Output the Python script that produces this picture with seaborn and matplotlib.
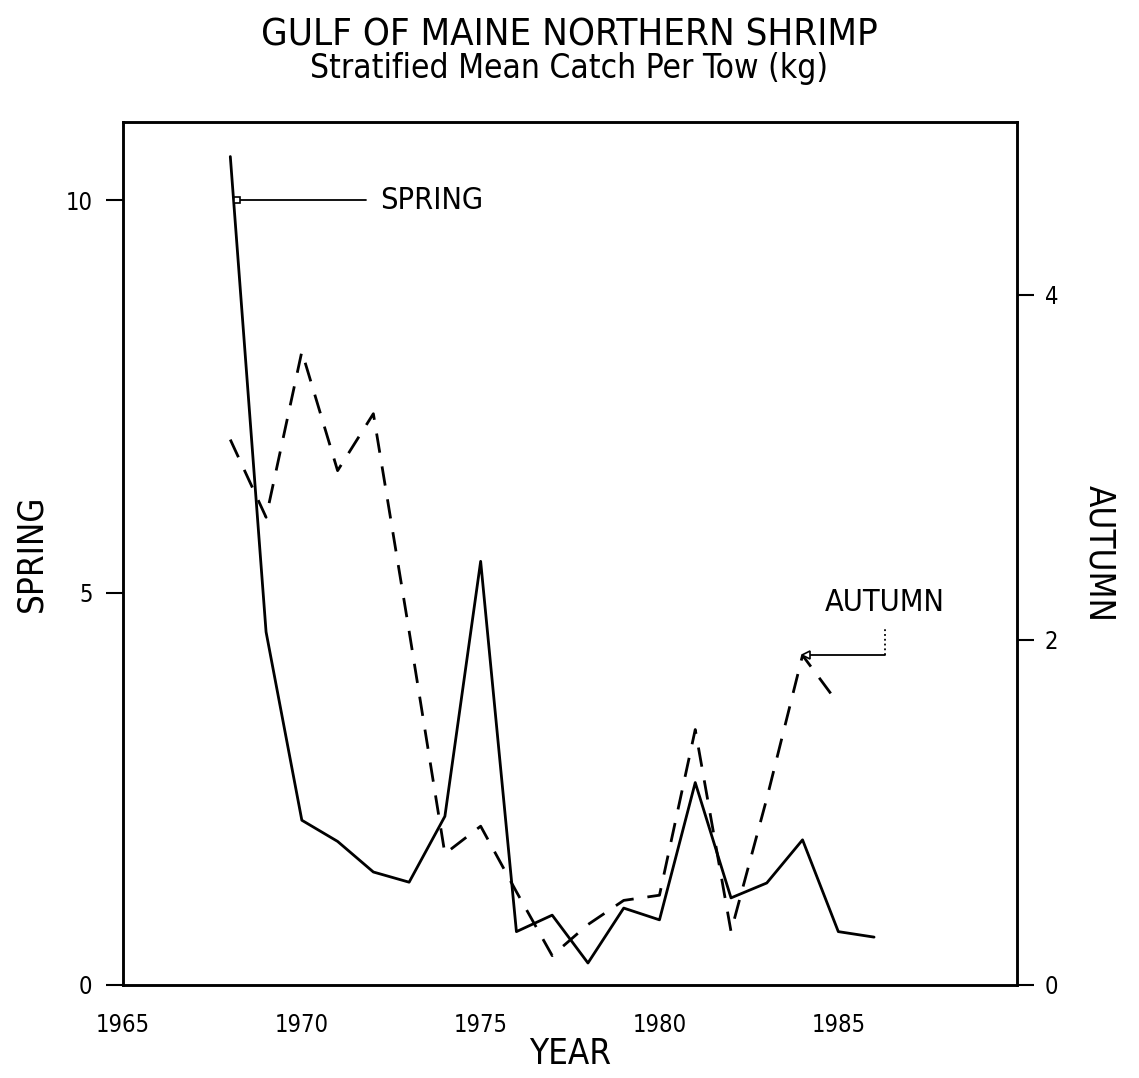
import matplotlib
matplotlib.use("Agg")
import matplotlib.pyplot as plt
import seaborn as sns
import pandas as pd

# ---- data ----
spring_years = [1968, 1969, 1970, 1971, 1972, 1973, 1974, 1975, 1976, 1977,
                1978, 1979, 1980, 1981, 1982, 1983, 1984, 1985, 1986]
spring_kg = [10.56, 4.50, 2.10, 1.83, 1.44, 1.31, 2.15, 5.40, 0.68, 0.89,
             0.28, 0.98, 0.83, 2.58, 1.11, 1.30, 1.85, 0.68, 0.61]

autumn_years = [1968, 1969, 1970, 1971, 1972, 1973, 1974, 1975, 1976, 1977,
                1978, 1979, 1980, 1981, 1982, 1983, 1984, 1985]
autumn_kg = [3.16, 2.71, 3.67, 2.98, 3.31, 2.05, 0.76, 0.92, 0.54, 0.17,
             0.35, 0.49, 0.52, 1.48, 0.31, 1.08, 1.91, 1.63]

x_ticks = [1965, 1970, 1975, 1980, 1985]
left_ticks = [0, 5, 10]
right_ticks = [0, 2, 4]

title = "GULF OF MAINE NORTHERN SHRIMP"
subtitle = "Stratified Mean Catch Per Tow (kg)"

spring_df = pd.DataFrame({"year": spring_years, "kg": spring_kg})
autumn_df = pd.DataFrame({"year": autumn_years, "kg": autumn_kg})

sns.set_theme(style="white")
plt.rcParams["font.family"] = ["DejaVu Sans"]
plt.rcParams["font.stretch"] = "condensed"
for k in ("text.color", "axes.labelcolor", "xtick.color", "ytick.color"):
    plt.rcParams[k] = "black"

fig = plt.figure(figsize=(11.39, 10.78), dpi=100)
ax = fig.add_axes([0.108, 0.0863, 0.785, 0.8005])
ax2 = ax.twinx()

sns.lineplot(data=spring_df, x="year", y="kg", ax=ax, color="black",
             linewidth=2.0, estimator=None)
sns.lineplot(data=autumn_df, x="year", y="kg", ax=ax2, color="black",
             linewidth=2.0, estimator=None)
ax2.lines[0].set_dashes((7, 5))

ax.set_xlim(1965, 1990)
ax.set_ylim(0, 11)
ax2.set_ylim(0, 5)

ax.set_xticks(x_ticks)
ax.set_xticklabels([str(t) for t in x_ticks], fontsize=17)
ax.set_yticks(left_ticks)
ax.set_yticklabels([str(t) for t in left_ticks], fontsize=17)
ax2.set_yticks(right_ticks)
ax2.set_yticklabels([str(t) for t in right_ticks], fontsize=17)

for a in (ax, ax2):
    for s in a.spines.values():
        s.set_color("black")
        s.set_linewidth(1.8)
    a.tick_params(direction="out", length=12, width=1.5, colors="black", pad=6)
ax.tick_params(axis="x", pad=8)
ax.tick_params(axis="y", pad=10)
ax2.tick_params(axis="y", pad=8)

ax.set_xlabel("YEAR", fontsize=25, labelpad=0)
ax.set_ylabel("SPRING", fontsize=25, labelpad=12)
ax2.set_ylabel("AUTUMN", fontsize=25, rotation=-90, labelpad=42)

# title
fig.text(0.5, 0.967, title, ha="center", va="center", fontsize=27.5)
fig.text(0.5, 0.936, subtitle, ha="center", va="center", fontsize=24)

# SPRING label with leader
sx, sy = spring_years[0] + 0.2, 10.0
ax.plot([sx, sx + 3.6], [sy, sy], color="black", linewidth=1.3)
ax.plot([sx], [sy], marker="s", markersize=5, markerfacecolor="white",
        markeredgecolor="black", markeredgewidth=1.2)
ax.text(sx + 4.0, sy, "SPRING", fontsize=22, ha="left", va="center")

# AUTUMN label with leader (right axis coordinates)
i84 = autumn_years.index(1984)
axx, ayy = autumn_years[i84] + 0.1, autumn_kg[i84]
ax2.plot([axx, axx + 2.2], [ayy, ayy], color="black", linewidth=1.3)
ax2.plot([axx + 2.2, axx + 2.2], [ayy, ayy + 0.16], color="black",
         linewidth=1.3, linestyle=":")
ax2.plot([axx], [ayy], marker="<", markersize=6, markerfacecolor="white",
         markeredgecolor="black", markeredgewidth=1.2)
ax2.text(axx + 2.2, ayy + 0.22, "AUTUMN", fontsize=22, ha="center", va="bottom")

fig.savefig("out.png", dpi=100, facecolor="white")
